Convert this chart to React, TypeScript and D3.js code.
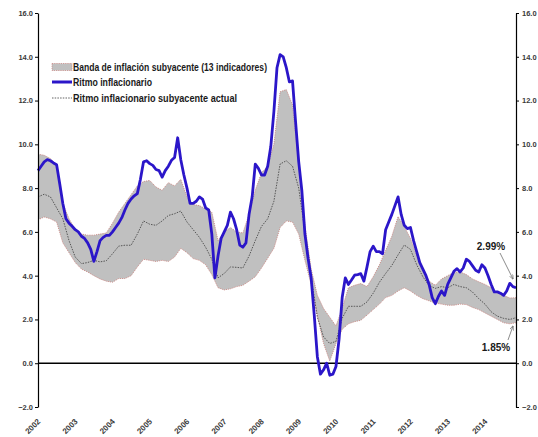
import React, { useEffect, useRef } from 'react';
import * as d3 from 'd3';

// monthly index 0 = Jan 2002 ... 154 = Nov 2014
const years = [2002, 2003, 2004, 2005, 2006, 2007, 2008, 2009, 2010, 2011, 2012, 2013, 2014];
const yTicks = [-2, 0, 2, 4, 6, 8, 10, 12, 14, 16];

// Ritmo inflacionario (monthly)
const ritmo = [
  8.8, 9.0, 9.2, 9.3, 9.25, 9.15, 9.07, 8.2, 7.3, 6.6, 6.4, 6.26,
  6.1, 6.0, 5.8, 5.7, 5.5, 5.2, 4.65, 5.1, 5.6, 5.75, 5.84, 5.84,
  6.0, 6.2, 6.4, 6.65, 7.0, 7.3, 7.5, 7.65, 7.75, 8.4, 9.2, 9.25,
  9.12, 9.04, 8.85, 8.8, 8.5, 8.8, 9.0, 9.27, 9.4, 10.3, 9.3, 8.6,
  8.0, 7.3, 7.3, 7.4, 7.6, 7.5, 7.1, 7.0, 5.9, 3.9, 4.9, 5.7,
  6.0, 6.3, 6.9, 6.6, 6.1, 5.4, 5.3, 5.5, 6.8, 7.6, 9.1, 8.9,
  8.6, 8.6, 9.0, 9.9, 11.5, 13.5, 14.1, 14.0, 13.5, 12.85, 12.9, 11.0,
  9.2, 7.9, 5.9, 4.8, 3.9, 2.2, 0.3, -0.5, -0.3, 0.0, -0.55, -0.5,
  -0.15, 1.1, 3.0, 3.9, 3.6, 3.8, 4.02, 4.05, 4.09, 3.75, 4.4, 5.1,
  5.35, 5.1, 5.1, 5.0, 6.1, 6.45, 6.8, 7.2, 7.6, 6.8, 6.3, 6.15,
  6.2, 5.6, 5.1, 4.6, 4.3, 4.0, 3.6, 3.0, 2.72, 3.05, 3.3, 3.1,
  3.6, 3.9, 4.2, 4.32, 4.17, 4.35, 4.75, 4.65, 4.45, 4.25, 4.17, 4.5,
  4.35, 4.0, 3.6, 3.26, 3.26, 3.2, 3.1, 3.3, 3.65, 3.5, 3.45,
];

// band and core, every second month (0, 2, ..., 154)
const bandUpper = [
  9.55, 9.5, 9.35, 9.0, 7.3, 6.6, 6.1, 5.9, 5.85, 5.85, 5.9, 5.95,
  6.4, 6.9, 7.3, 7.7, 8.1, 8.3, 8.35, 8.05, 7.9, 8.25, 8.1, 8.4,
  7.6, 7.25, 7.2, 7.05, 6.9, 5.6, 6.0, 6.2, 6.0, 5.95, 6.8, 7.9,
  8.7, 9.0, 10.0, 12.4, 12.5, 11.8, 9.1, 6.3, 4.3, 3.1, 2.5, 2.1,
  1.7, 2.5, 3.45, 3.56, 3.64, 3.5, 3.95, 4.5, 5.15, 5.8, 6.7, 6.25,
  5.7, 4.9, 4.3, 3.75, 3.56, 3.85, 4.0, 4.15, 4.17, 4.05, 3.85, 3.72,
  3.6, 3.45, 3.2, 3.1, 2.98, 2.99,
];
const bandLower = [
  6.55, 6.68, 6.6, 6.45, 5.5, 5.05, 4.6, 4.3, 4.17, 4.0, 3.85, 3.75,
  3.7, 3.87, 3.87, 4.0, 4.4, 4.75, 4.7, 4.65, 4.7, 4.65, 4.85, 5.25,
  5.05, 4.78, 4.7, 4.5, 4.05, 3.45, 3.35, 3.4, 3.5, 3.56, 3.75, 3.95,
  4.35, 4.8, 5.25, 6.2, 6.5, 6.45, 5.9, 4.7, 3.6, 2.2, 0.9, 0.1,
  0.9, 1.55, 1.8, 1.9, 1.96, 2.2, 2.45, 2.7, 3.0, 3.1, 3.3, 3.45,
  3.3, 3.1, 2.95, 2.85, 2.75, 2.7, 2.65, 2.65, 2.7, 2.68, 2.55, 2.45,
  2.3, 2.15, 2.0, 1.85, 1.8, 1.85,
];
const core = [
  7.6, 7.72, 7.6, 7.1, 6.6, 5.6, 4.85, 4.55, 4.6, 4.7, 4.63, 4.68,
  5.0, 5.35, 5.39, 5.39, 5.9, 6.5, 6.35, 6.3, 6.5, 6.75, 6.83, 6.95,
  6.45, 6.1, 5.75, 5.3, 4.75, 3.9, 4.1, 4.4, 4.38, 4.35, 4.9, 5.6,
  6.25, 6.6, 7.4, 9.1, 9.25, 9.0, 8.0, 6.0, 3.94, 2.1, 1.2, 0.9,
  1.0, 2.05, 2.6, 2.6, 2.6, 2.8, 3.2, 3.7, 4.1, 4.47, 4.95, 5.4,
  5.2, 4.5, 3.95, 3.55, 3.42, 3.5, 3.45, 3.6, 3.5, 3.45, 3.25, 2.95,
  2.7, 2.35, 2.15, 2.05, 2.0, 2.08,
];

const legendItems = [
  'Banda de inflación subyacente (13 indicadores)',
  'Ritmo inflacionario',
  'Ritmo inflacionario subyacente actual',
];
// narrow bold look of the original legend font
const legendWidths = [194, 79, 164];

const W = 538;
const H = 437;
const sans = '"Liberation Sans", Arial, sans-serif';

const App = () => {
  const ref = useRef<SVGSVGElement>(null);

  useEffect(() => {
    const svg = d3.select(ref.current);
    svg.selectAll('*').remove();

    const x = d3.scaleLinear().domain([0, 154]).range([38, 516]);
    const y = d3.scaleLinear().domain([-2, 16]).range([407, 13]);

    const bandData = bandUpper.map((u, i) => ({ m: i * 2, u, l: bandLower[i], c: core[i] }));

    const defs = svg.append('defs');
    defs.append('marker')
      .attr('id', 'arr')
      .attr('viewBox', '0 0 10 10')
      .attr('refX', 9)
      .attr('refY', 5)
      .attr('markerWidth', 6)
      .attr('markerHeight', 6)
      .attr('orient', 'auto')
      .append('path')
      .attr('d', 'M0,1 L10,5 L0,9')
      .attr('fill', 'none')
      .attr('stroke', '#6e6e6e')
      .attr('stroke-width', 1.4);

    // band
    const area = d3.area<any>()
      .x(d => x(d.m))
      .y0(d => y(d.l))
      .y1(d => y(d.u));
    svg.append('path')
      .datum(bandData)
      .attr('d', area)
      .attr('fill', '#c0c0c0');

    ['u', 'l'].forEach(k => {
      svg.append('path')
        .datum(bandData)
        .attr('d', d3.line<any>().x(d => x(d.m)).y(d => y(d[k])))
        .attr('fill', 'none')
        .attr('stroke', '#c98a86')
        .attr('stroke-width', 0.9)
        .attr('stroke-dasharray', '1.2,1');
    });

    // core
    svg.append('path')
      .datum(bandData)
      .attr('d', d3.line<any>().x(d => x(d.m)).y(d => y(d.c)))
      .attr('fill', 'none')
      .attr('stroke', '#3a3a3a')
      .attr('stroke-width', 0.8)
      .attr('stroke-dasharray', '1.5,1.2');

    // zero line
    svg.append('line')
      .attr('x1', x(0)).attr('x2', x(154))
      .attr('y1', y(0)).attr('y2', y(0))
      .attr('stroke', '#000')
      .attr('stroke-width', 1.4);

    // ritmo inflacionario
    svg.append('path')
      .datum(ritmo)
      .attr('d', d3.line<number>().x((d, i) => x(i)).y(d => y(d)))
      .attr('fill', 'none')
      .attr('stroke', '#2b16c9')
      .attr('stroke-width', 2.8)
      .attr('stroke-linejoin', 'round');

    // axes
    const fmt = d3.format('.1f');
    const left = svg.append('g')
      .attr('transform', `translate(${x(0)},0)`)
      .call(d3.axisLeft(y).tickValues(yTicks).tickFormat(fmt as any).tickSize(3).tickSizeOuter(0));
    const right = svg.append('g')
      .attr('transform', `translate(${x(154)},0)`)
      .call(d3.axisRight(y).tickValues(yTicks).tickFormat(fmt as any).tickSize(3).tickSizeOuter(0));
    [left, right].forEach(g => {
      g.select('.domain').attr('stroke', '#000').attr('stroke-width', 1.2);
      g.selectAll('.tick line').attr('stroke', '#000').attr('stroke-width', 1);
      g.selectAll('.tick text')
        .attr('font-family', sans)
        .attr('font-size', 7.5)
        .attr('font-weight', 'bold')
        .attr('fill', '#3a3a3a');
    });
    left.selectAll('.tick text').attr('x', -5);
    right.selectAll('.tick text').attr('x', 6);

    // year labels
    svg.append('g')
      .selectAll('text')
      .data(years)
      .enter().append('text')
      .attr('transform', d => `translate(${x((d - 2002) * 12) + 3},${422}) rotate(-45)`)
      .attr('text-anchor', 'end')
      .attr('font-family', sans)
      .attr('font-size', 8)
      .attr('font-weight', 'bold')
      .attr('fill', '#3a3a3a')
      .text(d => d);

    // legend
    const lg = svg.append('g').attr('transform', 'translate(52,0)');
    const ly = [67, 82, 98];
    lg.append('rect')
      .attr('x', 0).attr('y', ly[0] - 3.5)
      .attr('width', 20).attr('height', 7)
      .attr('fill', '#c0c0c0')
      .attr('stroke', '#c98a86')
      .attr('stroke-width', 0.8)
      .attr('stroke-dasharray', '1.2,1');
    lg.append('line')
      .attr('x1', 0).attr('x2', 20)
      .attr('y1', ly[1]).attr('y2', ly[1])
      .attr('stroke', '#2b16c9')
      .attr('stroke-width', 3);
    lg.append('line')
      .attr('x1', 0).attr('x2', 20)
      .attr('y1', ly[2]).attr('y2', ly[2])
      .attr('stroke', '#3a3a3a')
      .attr('stroke-width', 0.8)
      .attr('stroke-dasharray', '1.5,1.2');
    lg.selectAll('text.lbl')
      .data(legendItems)
      .enter().append('text')
      .attr('class', 'lbl')
      .attr('x', 21)
      .attr('y', (d, i) => ly[i] + 3.7)
      .attr('font-family', sans)
      .attr('font-size', 10)
      .attr('font-weight', 'bold')
      .attr('fill', '#1a1a1a')
      .attr('textLength', (d, i) => legendWidths[i])
      .attr('lengthAdjust', 'spacingAndGlyphs')
      .text(d => d);

    // annotations
    const last = bandData[bandData.length - 1];
    svg.append('text')
      .attr('x', 491).attr('y', 249.5)
      .attr('text-anchor', 'middle')
      .attr('font-family', sans)
      .attr('font-size', 10)
      .attr('font-weight', 'bold')
      .attr('fill', '#1a1a1a')
      .text(`${last.u.toFixed(2)}%`);
    svg.append('line')
      .attr('x1', 500).attr('y1', 253)
      .attr('x2', 513).attr('y2', 279)
      .attr('stroke', '#6e6e6e')
      .attr('stroke-width', 0.8)
      .attr('marker-end', 'url(#arr)');
    svg.append('text')
      .attr('x', 496).attr('y', 351)
      .attr('text-anchor', 'middle')
      .attr('font-family', sans)
      .attr('font-size', 10)
      .attr('font-weight', 'bold')
      .attr('fill', '#1a1a1a')
      .text(`${last.l.toFixed(2)}%`);
    svg.append('line')
      .attr('x1', 508).attr('y1', 340)
      .attr('x2', 513).attr('y2', 326)
      .attr('stroke', '#6e6e6e')
      .attr('stroke-width', 0.8)
      .attr('marker-end', 'url(#arr)');
  }, []);

  return (
    <svg
      ref={ref}
      width={W}
      height={H}
      style={{ position: 'absolute', left: 0, top: 0, background: '#fff' }}
    />
  );
};

export default App;
